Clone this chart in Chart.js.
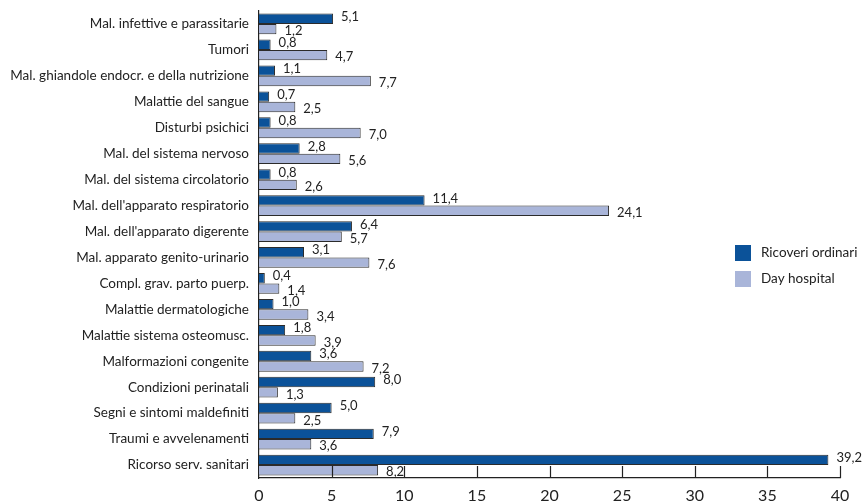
<!DOCTYPE html>
<html>
<head>
<meta charset="utf-8">
<script src="https://cdn.jsdelivr.net/npm/chart.js@4/dist/chart.umd.min.js"></script>
<style>
  html, body { margin: 0; padding: 0; background: #fff; overflow: hidden; }
  #wrap { width: 862px; height: 512px; }
</style>
</head>
<body>
<div id="wrap"><canvas id="c" width="862" height="512"></canvas></div>
<script>
const categories = [
  "Mal. infettive e parassitarie",
  "Tumori",
  "Mal. ghiandole endocr. e della nutrizione",
  "Malattie del sangue",
  "Disturbi psichici",
  "Mal. del sistema nervoso",
  "Mal. del sistema circolatorio",
  "Mal. dell'apparato respiratorio",
  "Mal. dell'apparato digerente",
  "Mal. apparato genito-urinario",
  "Compl. grav. parto puerp.",
  "Malattie dermatologiche",
  "Malattie sistema osteomusc.",
  "Malformazioni congenite",
  "Condizioni perinatali",
  "Segni e sintomi maldefiniti",
  "Traumi e avvelenamenti",
  "Ricorso serv. sanitari"
];
const ricoveriOrdinari = [5.1, 0.8, 1.1, 0.7, 0.8, 2.8, 0.8, 11.4, 6.4, 3.1, 0.4, 1.0, 1.8, 3.6, 8.0, 5.0, 7.9, 39.2];
const dayHospital     = [1.2, 4.7, 7.7, 2.5, 7.0, 5.6, 2.6, 24.1, 5.7, 7.6, 1.4, 3.4, 3.9, 7.2, 1.3, 2.5, 3.6, 8.2];
const xTicks = [0, 5, 10, 15, 20, 25, 30, 35, 40];
const seriesNames = ["Ricoveri ordinari", "Day hospital"];

const FONT = "Lato, 'Noto Sans', sans-serif";
const DARK = "#0b5299";
const LIGHT = "#a9b5d9";
const EDGE = "#2b2b2b";

const fmt = v => v.toFixed(1).replace(".", ",");

// value labels next to each bar end
const valueLabels = {
  id: "valueLabels",
  afterDatasetsDraw(chart) {
    const ctx = chart.ctx;
    ctx.save();
    ctx.font = "13px " + FONT;
    ctx.fillStyle = "#222";
    ctx.textAlign = "left";
    ctx.textBaseline = "middle";
    chart.data.datasets.forEach((ds, di) => {
      const meta = chart.getDatasetMeta(di);
      meta.data.forEach((bar, i) => {
        const dy = di === 0 ? -2 : 2;
        ctx.fillText(fmt(ds.data[i]), bar.x + 8, bar.y + dy);
      });
    });
    ctx.restore();
  }
};

// inward tick marks on the value axis
const innerTicks = {
  id: "innerTicks",
  afterDraw(chart) {
    const x = chart.scales.x;
    const ctx = chart.ctx;
    const bottom = chart.chartArea.bottom;
    ctx.save();
    ctx.strokeStyle = "#222";
    ctx.lineWidth = 1.2;
    ctx.beginPath();
    xTicks.forEach(v => {
      if (v === 0) return;
      const px = Math.round(x.getPixelForValue(v)) + 0.5;
      ctx.moveTo(px, bottom);
      ctx.lineTo(px, bottom - 12);
    });
    ctx.stroke();
    ctx.restore();
  }
};

// legend drawn inside the plot area on the right
const sideLegend = {
  id: "sideLegend",
  afterDraw(chart) {
    const ctx = chart.ctx;
    ctx.save();
    ctx.font = "13.5px " + FONT;
    ctx.textBaseline = "middle";
    ctx.textAlign = "left";
    const x0 = 735, y0 = 245, gap = 26, box = 16;
    chart.data.datasets.forEach((ds, i) => {
      const y = y0 + i * gap;
      ctx.fillStyle = ds.backgroundColor;
      ctx.fillRect(x0, y, box, box);
      ctx.fillStyle = "#222";
      ctx.fillText(ds.label, x0 + 26, y + box / 2);
    });
    ctx.restore();
  }
};

new Chart(document.getElementById("c"), {
  type: "bar",
  data: {
    labels: categories,
    datasets: [
      { label: seriesNames[0], data: ricoveriOrdinari, backgroundColor: DARK, borderColor: EDGE, borderWidth: 1, borderSkipped: "start",
        categoryPercentage: 0.8, barPercentage: 1.0 },
      { label: seriesNames[1], data: dayHospital, backgroundColor: LIGHT, borderColor: EDGE, borderWidth: 1, borderSkipped: "start",
        categoryPercentage: 0.8, barPercentage: 1.0 }
    ]
  },
  options: {
    indexAxis: "y",
    responsive: false,
    animation: false,
    devicePixelRatio: 1,
    layout: { padding: { top: 11, right: 22, left: 0, bottom: 0 } },
    plugins: { legend: { display: false }, tooltip: { enabled: false } },
    scales: {
      x: {
        min: 0, max: 40,
        afterBuildTicks(scale) { scale.ticks = xTicks.map(v => ({ value: v })); },
        afterFit(scale) { scale.height = 34; scale.paddingLeft = 0; scale.paddingRight = 0; },
        grid: { display: false, drawTicks: false },
        border: { display: true, color: "#222", width: 1.2 },
        ticks: { color: "#222", padding: 8, font: { family: FONT, size: 16 }, callback: v => String(v) }
      },
      y: {
        afterFit(scale) { scale.width = 259; scale.paddingTop = 0; scale.paddingBottom = 0; },
        grid: { display: false, drawTicks: false },
        border: { display: true, color: "#222", width: 1.2 },
        ticks: { color: "#222", padding: 10, font: { family: FONT, size: 13.5 } }
      }
    }
  },
  plugins: [valueLabels, innerTicks, sideLegend]
});
</script>
</body>
</html>
